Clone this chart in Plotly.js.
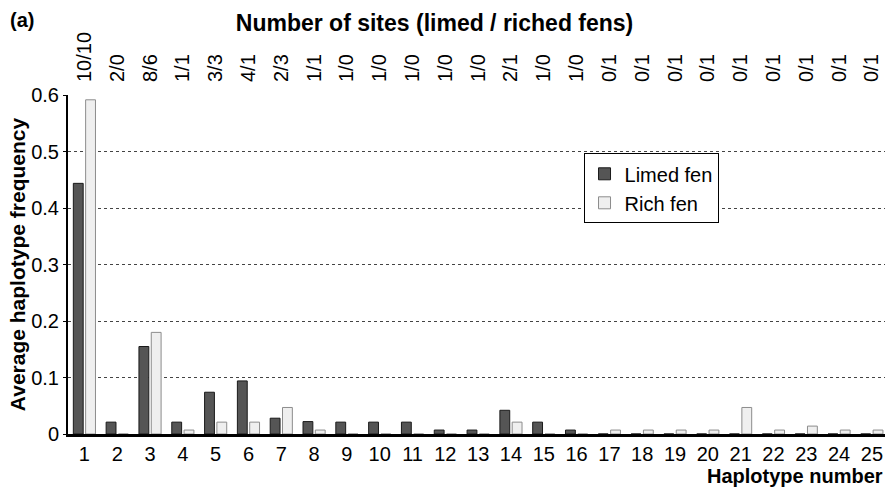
<!DOCTYPE html>
<html>
<head>
<meta charset="utf-8">
<script src="https://cdn.plot.ly/plotly-3.0.1.min.js"></script>
<style>html,body{margin:0;padding:0;background:#fff;}#chart{width:885px;height:491px;}</style>
</head>
<body>
<div id="chart"></div>
<script>
const haplotypes = [1,2,3,4,5,6,7,8,9,10,11,12,13,14,15,16,17,18,19,20,21,22,23,24,25];
const limedFen = [0.444,0.021,0.155,0.021,0.074,0.094,0.028,0.022,0.021,0.021,0.021,0.007,0.007,0.042,0.021,0.007,0,0,0,0,0,0,0,0,0];
const richFen  = [0.592,0,0.180,0.007,0.021,0.021,0.047,0.007,0,0,0,0,0,0.021,0,0,0.007,0.007,0.007,0.007,0.047,0.007,0.014,0.007,0.007];
const siteLabels = ['10/10','2/0','8/6','1/1','3/3','4/1','2/3','1/1','1/0','1/0','1/0','1/0','1/0','2/1','1/0','1/0','0/1','0/1','0/1','0/1','0/1','0/1','0/1','0/1','0/1'];

const FONT = 'Liberation Sans, Arial, Helvetica, sans-serif';

const data = [
  {type:'bar', name:'Limed fen', x:haplotypes, y:limedFen,
   marker:{color:'#555555', line:{color:'#1a1a1a', width:1}}, hoverinfo:'skip'},
  {type:'bar', name:'Rich fen', x:haplotypes, y:richFen,
   marker:{color:'#efefef', line:{color:'#8c8c8c', width:1}}, hoverinfo:'skip'},
  {type:'scatter', mode:'markers', x:haplotypes, y:limedFen, xaxis:'x2',
   marker:{opacity:0}, showlegend:false, hoverinfo:'skip'}
];

const layout = {
  width:885, height:491,
  margin:{l:68, r:0, t:95, b:57},
  paper_bgcolor:'#fff', plot_bgcolor:'#fff',
  font:{family:FONT, size:20, color:'#000'},
  barmode:'group', bargap:0.25, bargroupgap:0.2,
  showlegend:true,
  legend:{x:0.631, y:0.828, xanchor:'left', yanchor:'top',
    bgcolor:'#fff', bordercolor:'#000', borderwidth:1,
    font:{family:FONT, size:20}, tracegroupgap:0, itemwidth:30},
  title:{text:'<b>Number of sites (limed / riched fens)</b>',
    font:{family:FONT, size:23}, x:0.491, xanchor:'center', y:0.954, yanchor:'middle', xref:'container', yref:'container'},
  xaxis:{range:[0.5,25.4], tickmode:'array', tickvals:haplotypes, ticktext:haplotypes.map(String),
    showline:true, linecolor:'#000', linewidth:2.5, ticks:'', showgrid:false, zeroline:false,
    tickfont:{family:FONT, size:20}, fixedrange:true},
  xaxis2:{overlaying:'x', side:'top', anchor:'y', range:[0.5,25.4], matches:'x',
    tickmode:'array', tickvals:haplotypes, ticktext:siteLabels, tickangle:-90,
    showline:false, ticks:'', showgrid:false, zeroline:false, ticklabelstandoff:12,
    tickfont:{family:FONT, size:20}},
  yaxis:{range:[0,0.6005], dtick:0.1, tick0:0, showline:true, linecolor:'#000', linewidth:2,
    ticks:'outside', ticklen:3, tickcolor:'#000', showgrid:true, gridcolor:'#444', griddash:'dot', gridwidth:1,
    zeroline:false, tickfont:{family:FONT, size:20},
    title:{text:'<b>Average haplotype frequency</b>', font:{family:FONT, size:21}, standoff:0}},
  annotations:[
    {text:'<b>Haplotype number</b>', xref:'paper', yref:'paper', x:1.0, y:-0.125, xanchor:'right', yanchor:'middle',
     showarrow:false, font:{family:FONT, size:20}},
    {text:'<b>(a)</b>', xref:'paper', yref:'paper', x:-0.074, y:1.22, xanchor:'left', yanchor:'middle',
     showarrow:false, font:{family:FONT, size:20}}
  ]
};

Plotly.newPlot('chart', data, layout, {displayModeBar:false, staticPlot:true});
</script>
</body>
</html>
